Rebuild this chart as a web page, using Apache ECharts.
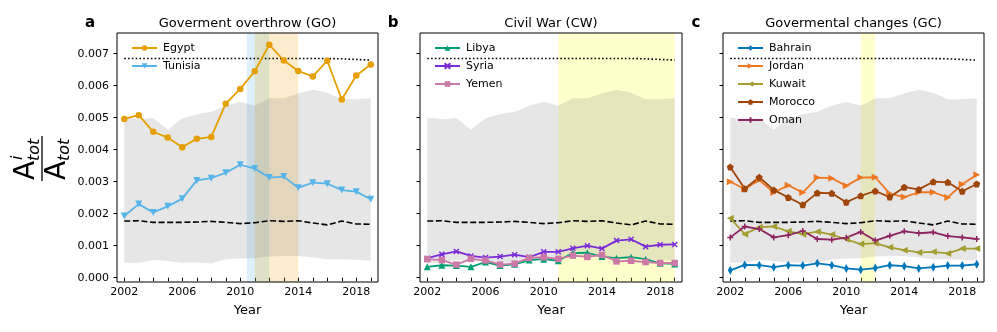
<!DOCTYPE html>
<html>
<head>
<meta charset="utf-8">
<script src="https://cdn.jsdelivr.net/npm/echarts@6/dist/echarts.min.js"></script>
<style>
  html, body { margin: 0; padding: 0; background: #fff; }
  #chart { width: 997px; height: 332px; }
</style>
</head>
<body>
<div id="chart"></div>
<script>
const years = [2002, 2003, 2004, 2005, 2006, 2007, 2008, 2009, 2010, 2011, 2012, 2013, 2014, 2015, 2016, 2017, 2018, 2019];
const yearLabels = [2002, 2006, 2010, 2014, 2018];
const yTicks = [0, 0.001, 0.002, 0.003, 0.004, 0.005, 0.006, 0.007];

// shared reference curves
const bandUpper = [0.00501, 0.00495, 0.00499, 0.00462, 0.00498, 0.00511, 0.00519, 0.00537, 0.00550, 0.00537, 0.00561, 0.00561, 0.00576, 0.00587, 0.00578, 0.00558, 0.00558, 0.00561];
const bandLower = [0.00047, 0.00047, 0.00055, 0.00052, 0.00047, 0.00048, 0.00045, 0.00058, 0.00060, 0.00061, 0.00066, 0.00068, 0.00068, 0.00063, 0.00058, 0.00058, 0.00056, 0.00053];
const dottedLine = [0.00685, 0.00685, 0.00685, 0.00685, 0.00685, 0.00685, 0.00685, 0.00685, 0.00685, 0.00685, 0.00685, 0.00685, 0.00685, 0.00685, 0.00685, 0.00684, 0.00682, 0.00680];
const dashedLine = [0.00177, 0.00178, 0.00173, 0.00173, 0.00173, 0.00174, 0.00176, 0.00173, 0.00169, 0.00172, 0.00178, 0.00176, 0.00178, 0.00171, 0.00165, 0.00177, 0.00168, 0.00167];

// a: Goverment overthrow
const egypt = [0.00496, 0.00508, 0.00456, 0.00438, 0.00408, 0.00434, 0.00440, 0.00544, 0.00590, 0.00645, 0.00728, 0.00679, 0.00646, 0.00629, 0.00678, 0.00557, 0.00632, 0.00666];
const tunisia = [0.00193, 0.00230, 0.00204, 0.00223, 0.00247, 0.00304, 0.00311, 0.00328, 0.00353, 0.00341, 0.00313, 0.00316, 0.00281, 0.00297, 0.00294, 0.00274, 0.00269, 0.00245];
// b: Civil War
const libya = [0.00034, 0.00039, 0.00038, 0.00034, 0.00049, 0.00038, 0.00042, 0.00055, 0.00058, 0.00053, 0.00077, 0.00078, 0.00066, 0.00061, 0.00064, 0.00058, 0.00045, 0.00043];
const syria = [0.00061, 0.00073, 0.00082, 0.00068, 0.00063, 0.00066, 0.00072, 0.00064, 0.00081, 0.00081, 0.00092, 0.00100, 0.00091, 0.00116, 0.00120, 0.00097, 0.00103, 0.00104];
const yemen = [0.00058, 0.00055, 0.00041, 0.00059, 0.00054, 0.00041, 0.00044, 0.00062, 0.00064, 0.00059, 0.00069, 0.00065, 0.00071, 0.00051, 0.00053, 0.00049, 0.00046, 0.00046];
// c: Govermental changes
const bahrain = [0.00023, 0.00040, 0.00039, 0.00033, 0.00039, 0.00038, 0.00045, 0.00039, 0.00029, 0.00025, 0.00030, 0.00039, 0.00036, 0.00029, 0.00033, 0.00038, 0.00038, 0.00042];
const jordan = [0.00300, 0.00277, 0.00305, 0.00266, 0.00289, 0.00266, 0.00313, 0.00311, 0.00287, 0.00313, 0.00314, 0.00263, 0.00252, 0.00267, 0.00267, 0.00251, 0.00292, 0.00322];
const kuwait = [0.00186, 0.00136, 0.00158, 0.00160, 0.00145, 0.00136, 0.00144, 0.00135, 0.00120, 0.00105, 0.00108, 0.00095, 0.00086, 0.00079, 0.00081, 0.00076, 0.00091, 0.00091];
const morocco = [0.00346, 0.00278, 0.00314, 0.00274, 0.00251, 0.00228, 0.00265, 0.00264, 0.00236, 0.00256, 0.00271, 0.00252, 0.00283, 0.00276, 0.00300, 0.00298, 0.00270, 0.00293];
const oman = [0.00126, 0.00160, 0.00152, 0.00126, 0.00133, 0.00146, 0.00121, 0.00119, 0.00125, 0.00143, 0.00116, 0.00131, 0.00145, 0.00139, 0.00142, 0.00130, 0.00126, 0.00121];

// highlighted periods [start, end, colour]
const spansA = [[2010.45, 2012, 'rgba(86,180,233,0.2)'], [2011, 2014, 'rgba(230,159,0,0.2)']];
const spansB = [[2011, 2019, 'rgba(255,255,0,0.2)']];
const spansC = [[2011, 2012, 'rgba(255,255,0,0.2)']];

const FONT = 'DejaVu Sans';
const pair = arr => years.map((y, i) => [y, arr[i]]);

const grids = [
  { left: 117, top: 33, width: 261, height: 249 },
  { left: 420, top: 33, width: 262, height: 249 },
  { left: 723, top: 33, width: 261, height: 249 }
];

const crossPath = 'path://M0,0L10,10M10,0L0,10';
const plusPath = 'path://M5,0L5,10M0,5L10,5';
const pentagon = 'path://M0,-1L0.951,-0.309L0.588,0.809L-0.588,0.809L-0.951,-0.309Z';

const panels = [
  { spans: spansA, items: [
    { name: 'Egypt', data: egypt, color: '#E69F00', symbol: 'circle', size: 6.5 },
    { name: 'Tunisia', data: tunisia, color: '#56B4E9', symbol: 'triangle', size: 7, rotate: 180 }
  ] },
  { spans: spansB, items: [
    { name: 'Libya', data: libya, color: '#009E73', symbol: 'triangle', size: 7 },
    { name: 'Syria', data: syria, color: '#7B2BD8', symbol: crossPath, size: 5, stroke: true },
    { name: 'Yemen', data: yemen, color: '#CC79A7', symbol: 'rect', size: 6.5 }
  ] },
  { spans: spansC, items: [
    { name: 'Bahrain', data: bahrain, color: '#0077BB', symbol: 'diamond', size: [5, 9] },
    { name: 'Jordan', data: jordan, color: '#EE7722', symbol: 'triangle', size: 7, rotate: -90 },
    { name: 'Kuwait', data: kuwait, color: '#A39E32', symbol: 'triangle', size: 7, rotate: 90 },
    { name: 'Morocco', data: morocco, color: '#A0460A', symbol: pentagon, size: 7 },
    { name: 'Oman', data: oman, color: '#8E2461', symbol: plusPath, size: 6, stroke: true }
  ] }
];

const xAxes = grids.map((g, i) => ({
  type: 'value', gridIndex: i, min: 2001.5, max: 2019.5,
  name: 'Year', nameLocation: 'middle', nameGap: 22,
  nameTextStyle: { fontFamily: FONT, fontSize: 13, color: '#000' },
  axisLine: { show: false },
  splitLine: { show: false },
  axisTick: { show: true, length: 3.5, lineStyle: { color: '#000', width: 1 }, customValues: years },
  axisLabel: { customValues: yearLabels, fontFamily: FONT, fontSize: 11, color: '#000', margin: 5, formatter: v => String(v) }
}));

const yAxes = grids.map((g, i) => ({
  type: 'value', gridIndex: i, min: -0.000134, max: 0.007647,
  axisLine: { show: false },
  splitLine: { show: false },
  axisTick: { show: true, length: 3.5, lineStyle: { color: '#000', width: 1 }, customValues: yTicks },
  axisLabel: {
    show: i === 0, customValues: yTicks, fontFamily: FONT, fontSize: 11, color: '#000', margin: 8,
    formatter: v => v.toFixed(3)
  }
}));

// grey band drawn as one polygon through the axis scales
const bandRender = (params, api) => {
  if (params.dataIndex !== 0) return null;
  const top = years.map((y, k) => api.coord([y, bandUpper[k]]));
  const bottom = years.map((y, k) => api.coord([y, bandLower[k]])).reverse();
  return {
    type: 'polygon',
    shape: { points: top.concat(bottom) },
    style: { fill: 'rgba(128,128,128,0.2)', stroke: 'none' },
    silent: true
  };
};

const series = [];
const legends = [];
panels.forEach((p, i) => {
  series.push({
    type: 'custom', xAxisIndex: i, yAxisIndex: i, data: pair(bandUpper),
    renderItem: bandRender, silent: true, z: 1, clip: true
  });
  series.push({
    type: 'line', xAxisIndex: i, yAxisIndex: i, data: [], silent: true, z: 2,
    markArea: {
      silent: true,
      data: p.spans.map(s => [{ xAxis: s[0], itemStyle: { color: s[2] } }, { xAxis: s[1] }])
    }
  });
  series.push({
    type: 'line', xAxisIndex: i, yAxisIndex: i, data: pair(dottedLine), symbol: 'none', silent: true, z: 3,
    lineStyle: { color: '#000', width: 1.6, type: [1.6, 2.2] }
  });
  series.push({
    type: 'line', xAxisIndex: i, yAxisIndex: i, data: pair(dashedLine), symbol: 'none', silent: true, z: 3,
    lineStyle: { color: '#000', width: 1.6, type: [6, 2.6] }
  });
  p.items.forEach(it => {
    series.push({
      name: it.name, type: 'line', xAxisIndex: i, yAxisIndex: i, data: pair(it.data), z: 4,
      symbol: it.symbol, symbolSize: it.size, symbolRotate: it.rotate || 0, showAllSymbol: true,
      lineStyle: { color: it.color, width: 1.8 },
      itemStyle: { color: it.color, borderColor: it.color, borderWidth: it.stroke ? 1.5 : 0 }
    });
  });
  legends.push({
    data: p.items.map(it => it.name),
    orient: 'vertical', left: grids[i].left + 9, top: 37,
    itemWidth: 25, itemHeight: 7, itemGap: 6,
    textStyle: { fontFamily: FONT, fontSize: 11, lineHeight: 12, color: '#000', padding: [0, 0, 0, 1] }
  });
});

const titles = ['Goverment overthrow (GO)', 'Civil War (CW)', 'Govermental changes (GC)'];
const letters = ['a', 'b', 'c'];
const graphic = [];
grids.forEach((g, i) => {
  graphic.push({
    type: 'text', x: g.left + g.width / 2, y: 24,
    style: { text: titles[i], font: '13px "' + FONT + '"', fill: '#000', align: 'center', verticalAlign: 'middle' }
  });
  graphic.push({
    type: 'text', x: g.left - 27, y: 23,
    style: { text: letters[i], font: 'bold 15px "' + FONT + '"', fill: '#000', align: 'center', verticalAlign: 'middle' }
  });
  // axes frame
  graphic.push({
    type: 'rect', z: 10, silent: true,
    shape: { x: g.left, y: g.top, width: g.width, height: g.height },
    style: { fill: 'none', stroke: '#000', lineWidth: 1 }
  });
});

// y-axis label: A^i_tot / A_tot
graphic.push({
  type: 'group', x: 42, y: 158, rotation: Math.PI / 2,
  children: [
    { type: 'text', x: -22, y: -1, style: { text: 'A', font: '28px "' + FONT + '"', fill: '#000', align: 'left', verticalAlign: 'bottom' } },
    { type: 'text', x: -3, y: 1, style: { text: 'tot', font: 'italic 16px "' + FONT + '"', fill: '#000', align: 'left', verticalAlign: 'bottom' } },
    { type: 'text', x: -2, y: -16, style: { text: 'i', font: 'italic 16px "' + FONT + '"', fill: '#000', align: 'left', verticalAlign: 'bottom' } },
    { type: 'line', shape: { x1: -23, y1: 0, x2: 22, y2: 0 }, style: { stroke: '#000', lineWidth: 1.3 } },
    { type: 'text', x: -22, y: 2, style: { text: 'A', font: '28px "' + FONT + '"', fill: '#000', align: 'left', verticalAlign: 'top' } },
    { type: 'text', x: -3, y: 15, style: { text: 'tot', font: 'italic 16px "' + FONT + '"', fill: '#000', align: 'left', verticalAlign: 'top' } }
  ]
});

const chart = echarts.init(document.getElementById('chart'), null, { renderer: 'canvas' });
chart.setOption({
  animation: false,
  backgroundColor: '#fff',
  grid: grids,
  xAxis: xAxes,
  yAxis: yAxes,
  legend: legends,
  series: series,
  graphic: graphic
});
</script>
</body>
</html>
